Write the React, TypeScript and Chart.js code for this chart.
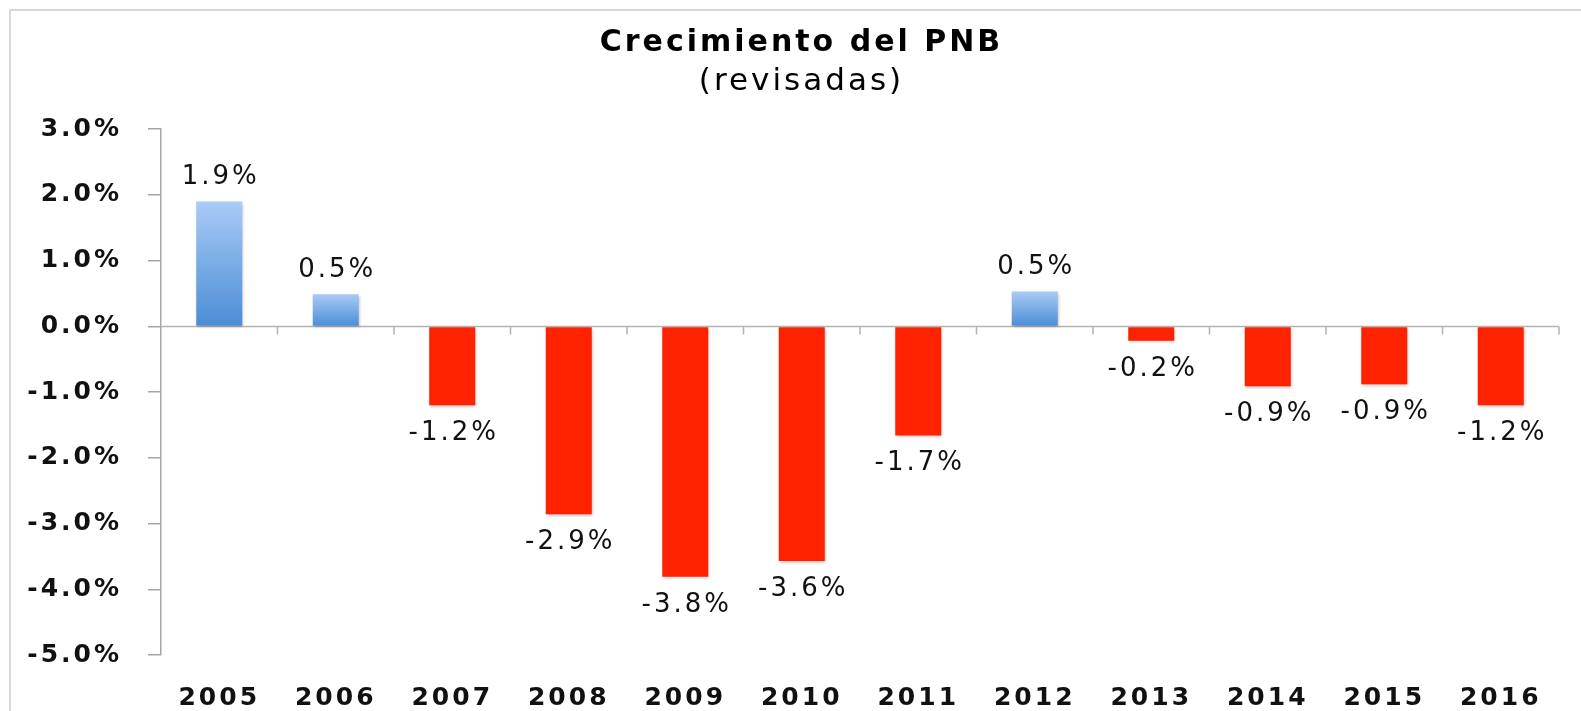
import React, { useEffect, useRef } from 'react';
import { Chart, registerables } from 'chart.js';

Chart.register(...registerables);

const categories = ['2005', '2006', '2007', '2008', '2009', '2010', '2011', '2012', '2013', '2014', '2015', '2016'];
const growth = [1.9, 0.49, -1.2, -2.86, -3.81, -3.57, -1.66, 0.53, -0.22, -0.91, -0.88, -1.2];
const yMin = -5;
const yMax = 3;
const yStep = 1;
const titleText = 'Crecimiento del PNB';
const subtitleText = '(revisadas)';

const FONT = '"DejaVu Sans", Verdana, sans-serif';
const SPACING = '3px';

const fmt = (v: number) => (Math.round(v * 10) / 10).toFixed(1) + '%';

export default function App() {
  const ref = useRef<HTMLCanvasElement>(null);

  useEffect(() => {
    document.body.style.margin = '0';
    const canvas = ref.current;
    if (!canvas) return;

    const framePlugin = {
      id: 'frame',
      beforeDraw(chart: any) {
        const ctx = chart.ctx;
        ctx.letterSpacing = SPACING;
        ctx.save();
        ctx.strokeStyle = '#d9d9d9';
        ctx.lineWidth = 2;
        ctx.beginPath();
        ctx.moveTo(10, chart.height);
        ctx.lineTo(10, 10);
        ctx.lineTo(chart.width, 10);
        ctx.stroke();
        ctx.restore();
      },
    };

    const zeroLinePlugin = {
      id: 'zeroLine',
      beforeDatasetsDraw(chart: any) {
        const { ctx, chartArea, scales } = chart;
        const y0 = scales.y.getPixelForValue(0);
        const n = categories.length;
        const w = scales.x.getPixelForValue(1) - scales.x.getPixelForValue(0);
        ctx.save();
        ctx.strokeStyle = '#b3b3b3';
        ctx.lineWidth = 1.5;
        ctx.beginPath();
        ctx.moveTo(chartArea.left, y0);
        ctx.lineTo(chartArea.right, y0);
        for (let i = 0; i < n; i++) {
          const x = scales.x.getPixelForValue(i) + w / 2;
          ctx.moveTo(x, y0);
          ctx.lineTo(x, y0 + 8);
        }
        ctx.stroke();
        ctx.restore();
      },
    };

    const shadowPlugin = {
      id: 'barShadow',
      beforeDatasetDraw(chart: any) {
        const ctx = chart.ctx;
        ctx.save();
        ctx.shadowColor = 'rgba(0,0,0,0.28)';
        ctx.shadowBlur = 3;
        ctx.shadowOffsetX = 1;
        ctx.shadowOffsetY = 1.5;
      },
      afterDatasetDraw(chart: any) {
        chart.ctx.restore();
      },
    };

    const labelPlugin = {
      id: 'valueLabels',
      afterDatasetsDraw(chart: any) {
        const ctx = chart.ctx;
        const meta = chart.getDatasetMeta(0);
        ctx.save();
        ctx.font = `26px ${FONT}`;
        ctx.letterSpacing = '3px';
        ctx.fillStyle = '#111111';
        ctx.textAlign = 'center';
        ctx.textBaseline = 'middle';
        meta.data.forEach((bar: any, i: number) => {
          const v = growth[i];
          const { x, y } = bar.getProps(['x', 'y'], true);
          const ty = v >= 0 ? y - 24 : y + 28;
          ctx.fillText(fmt(v), x + 1.5, ty);
        });
        ctx.restore();
      },
    };

    const chart = new Chart(canvas, {
      type: 'bar',
      data: {
        labels: categories,
        datasets: [
          {
            data: growth,
            barPercentage: 0.395,
            categoryPercentage: 1,
            borderWidth: 0,
            backgroundColor: (c: any) => {
              const v = growth[c.dataIndex];
              if (v < 0) return '#ff2200';
              const ch = c.chart;
              const ys = ch.scales && ch.scales.y;
              if (!ch.chartArea || !ys) return '#6fa3e4';
              const top = ys.getPixelForValue(v);
              const bottom = ys.getPixelForValue(0);
              const g = ch.ctx.createLinearGradient(0, top, 0, bottom);
              g.addColorStop(0, '#a9cbf6');
              g.addColorStop(1, '#4b8dd6');
              return g;
            },
          },
        ],
      },
      options: {
        responsive: false,
        animation: false,
        devicePixelRatio: 1,
        layout: { padding: { left: 22, right: 0, top: 0, bottom: 0 } },
        plugins: {
          legend: { display: false },
          tooltip: { enabled: false },
          title: {
            display: true,
            text: titleText,
            color: '#000000',
            font: { family: FONT, size: 30, weight: 'bold', lineHeight: 1.2 },
            padding: { top: 25, bottom: 0 },
          },
          subtitle: {
            display: true,
            text: subtitleText,
            color: '#000000',
            font: { family: FONT, size: 31, weight: 'normal', lineHeight: 1.2 },
            padding: { top: 2, bottom: 29 },
          },
        },
        scales: {
          x: {
            grid: { display: false },
            border: { display: false },
            ticks: {
              color: '#111111',
              font: { family: FONT, size: 25, weight: 'bold' },
              padding: 20,
              maxRotation: 0,
              autoSkip: false,
            },
            afterFit: (s: any) => {
              s.height = 56;
            },
          },
          y: {
            min: yMin,
            max: yMax,
            ticks: {
              stepSize: yStep,
              color: '#111111',
              font: { family: FONT, size: 25, weight: 'bold' },
              padding: 26,
              callback: (v: any) => Number(v).toFixed(1) + '%',
            },
            grid: {
              display: true,
              drawOnChartArea: false,
              drawTicks: true,
              tickLength: 13,
              color: '#a6a6a6',
              lineWidth: 1.5,
            },
            border: { display: true, color: '#a6a6a6', width: 1.5 },
            afterFit: (s: any) => {
              s.width = 139;
            },
          },
          yR: {
            type: 'linear',
            position: 'right',
            display: true,
            grid: { display: false },
            border: { display: false },
            ticks: { display: false },
            afterFit: (s: any) => {
              s.width = 22;
            },
          },
        },
      } as any,
      plugins: [framePlugin, zeroLinePlugin, shadowPlugin, labelPlugin],
    });

    return () => {
      chart.destroy();
    };
  }, []);

  return (
    <div style={{ width: 1581, height: 711 }}>
      <canvas ref={ref} width={1581} height={711} style={{ display: 'block' }} />
    </div>
  );
}
